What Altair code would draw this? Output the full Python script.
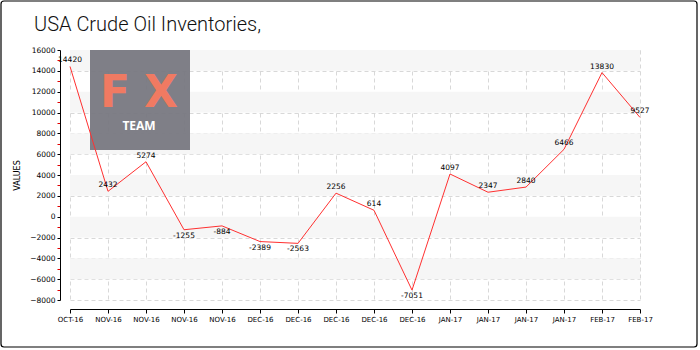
import json
import altair as alt
import pandas as pd

# ---- data ----
x_labels = ["OCT-16", "NOV-16", "NOV-16", "NOV-16", "NOV-16", "DEC-16", "DEC-16",
            "DEC-16", "DEC-16", "DEC-16", "JAN-17", "JAN-17", "JAN-17", "JAN-17",
            "FEB-17", "FEB-17"]
values = [14420, 2432, 5274, -1255, -884, -2389, -2563, 2256, 614, -7051,
          4097, 2347, 2840, 6466, 13830, 9527]
band_starts = [14000, 10000, 6000, 2000, -2000, -6000]
y_ticks = list(range(-8000, 16001, 1000))
title_text = "USA Crude Oil Inventories,"

df = pd.DataFrame({"idx": list(range(len(values))), "value": values,
                   "lab": [str(v) for v in values]})
df["dy"] = ["up" if v >= 0 else "down" for v in values]
bands = pd.DataFrame({"y0": band_starts, "y1": [b + 2000 for b in band_starts],
                      "x0": [0] * len(band_starts), "x1": [len(values) - 1] * len(band_starts)})

FONT = "DejaVu Sans"
W, H = 570, 250

xscale = alt.Scale(domain=[0, len(values) - 1], nice=False, zero=False)
yscale = alt.Scale(domain=[-8000, 16000], nice=False, zero=False)

x_axis = alt.Axis(
    values=list(range(len(values))),
    labelExpr=json.dumps(x_labels) + "[datum.value]",
    title=None, offset=9, domainColor="black", tickColor="black", tickSize=4,
    labelFont=FONT, labelFontSize=7, labelColor="black", labelPadding=2,
    grid=True, gridColor="#d8d8d8", gridDash=[4, 3], labelFlush=False,
    labelOverlap=False,
)
y_axis = alt.Axis(
    values=y_ticks,
    labelExpr="datum.value % 2000 == 0 ? datum.label : ''",
    title="VALUES", titleFont=FONT, titleFontSize=8, titleFontWeight="normal",
    titleColor="black", titlePadding=8,
    offset=10, domainColor="black",
    tickColor={"condition": {"test": "datum.value % 2000 != 0", "value": "#e00000"}, "value": "black"},
    tickSize=3, format="d",
    labelFont=FONT, labelFontSize=7.5, labelColor="black", labelPadding=2,
    grid=True, gridColor="#d8d8d8", gridDash=[4, 3],
    gridOpacity={"condition": {"test": "datum.value % 2000 != 0", "value": 0}, "value": 1},
    labelOverlap=False,
)

band_layer = alt.Chart(bands).mark_rect(color="#f6f6f6").encode(
    x=alt.X("x0:Q", scale=xscale, axis=x_axis),
    x2="x1:Q",
    y=alt.Y("y0:Q", scale=yscale, axis=y_axis),
    y2="y1:Q",
)

logo_rect = alt.Chart(pd.DataFrame({"a": [0]})).mark_rect(
    color="#777780", opacity=0.94
).encode(x=alt.value(20), x2=alt.value(120), y=alt.value(0), y2=alt.value(100))

logo_f = alt.Chart(pd.DataFrame({"t": ["F"]})).mark_text(
    font="DejaVu Sans", fontSize=44, fontWeight="bold", color="#f07a62",
    align="left", baseline="alphabetic"
).encode(x=alt.value(30), y=alt.value(57), text="t:N")

logo_x = alt.Chart(pd.DataFrame({"t": ["X"]})).mark_text(
    font="DejaVu Sans", fontSize=44, fontWeight="bold", color="#f07a62",
    align="right", baseline="alphabetic"
).encode(x=alt.value(108), y=alt.value(57), text="t:N")

logo_team = alt.Chart(pd.DataFrame({"t": ["TEAM"]})).mark_text(
    font="Open Sans", fontSize=12, fontWeight="bold", color="white",
    align="center", baseline="alphabetic"
).encode(x=alt.value(69), y=alt.value(80), text="t:N")

line = alt.Chart(df).mark_line(color="#ff3030", strokeWidth=1).encode(
    x=alt.X("idx:Q", scale=xscale, axis=x_axis),
    y=alt.Y("value:Q", scale=yscale, axis=y_axis),
)

labels_up = alt.Chart(df[df["dy"] == "up"]).mark_text(
    font=FONT, fontSize=7.5, color="black", dy=-6, baseline="middle", align="center"
).encode(x=alt.X("idx:Q", scale=xscale, axis=x_axis),
         y=alt.Y("value:Q", scale=yscale, axis=y_axis), text="lab:N")

labels_down = alt.Chart(df[df["dy"] == "down"]).mark_text(
    font=FONT, fontSize=7.5, color="black", dy=6, baseline="middle", align="center"
).encode(x=alt.X("idx:Q", scale=xscale, axis=x_axis),
         y=alt.Y("value:Q", scale=yscale, axis=y_axis), text="lab:N")

title = alt.Chart(pd.DataFrame({"t": [title_text]})).mark_text(
    font="Roboto", fontSize=20, fontWeight=300, color="#111111",
    align="left", baseline="alphabetic"
).encode(x=alt.value(-36), y=alt.value(-19), text="t:N")

border = alt.Chart(pd.DataFrame({"a": [0]})).mark_rect(
    fill=None, stroke="black", strokeWidth=1.2, cornerRadius=3
).encode(x=alt.value(-69), x2=alt.value(627), y=alt.value(-49), y2=alt.value(297))

chart = alt.layer(
    band_layer, logo_rect, logo_f, logo_x, logo_team, line, labels_up, labels_down, title, border
).properties(
    width=W, height=H,
    autosize=alt.AutoSizeParams(type="none"),
    padding={"left": 70, "top": 50, "right": 60, "bottom": 50},
    background="white",
).configure_view(stroke=None).configure_axis(labelOverlap=False)

chart.save("out.html", embed_options={"renderer": "svg", "actions": False})
